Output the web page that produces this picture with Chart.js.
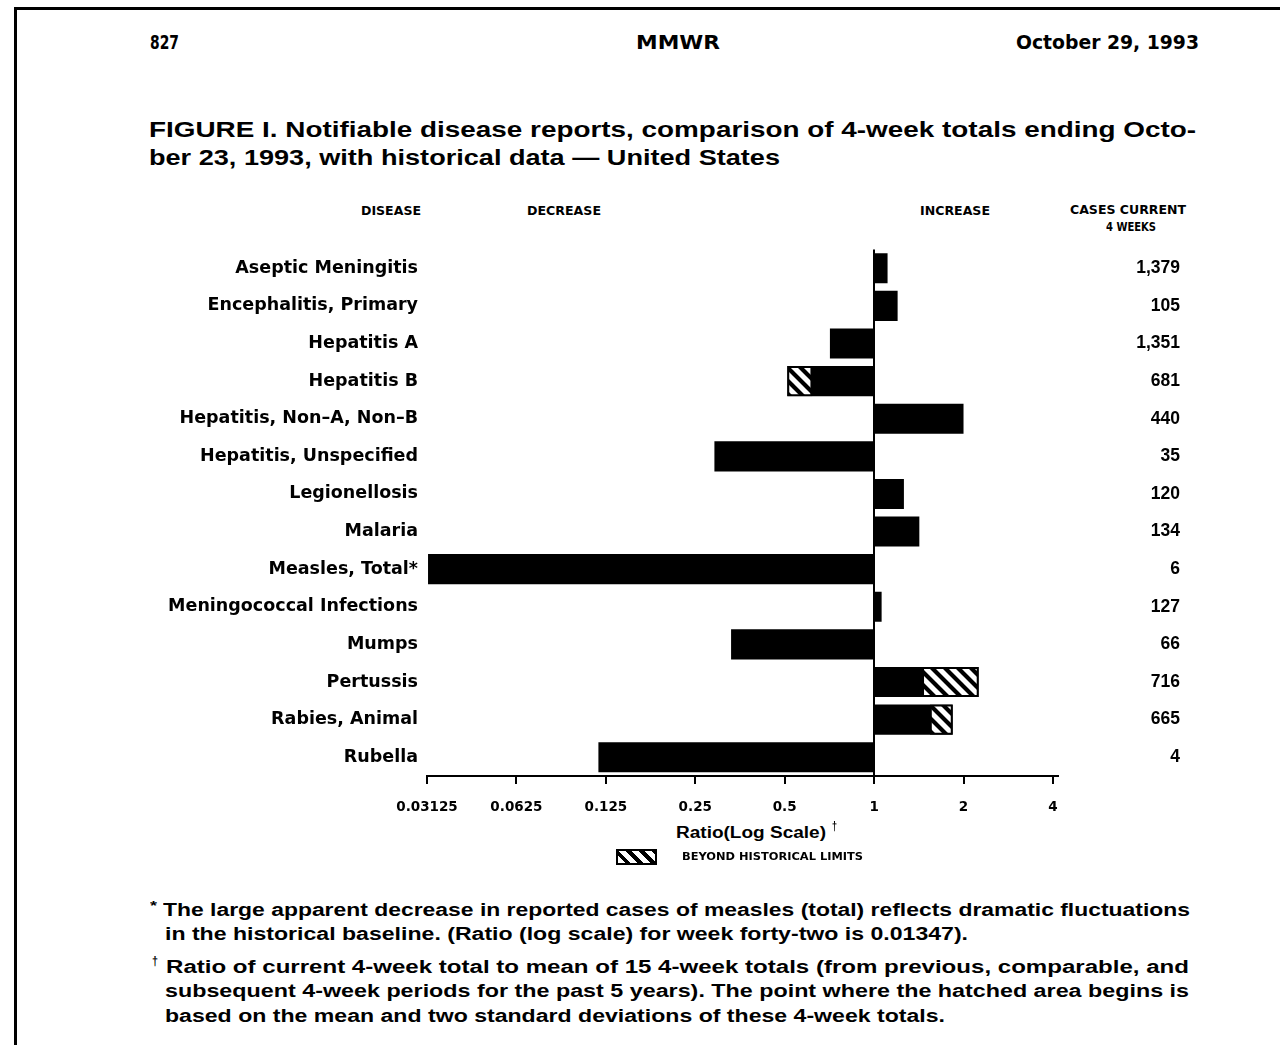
<!DOCTYPE html>
<html>
<head>
<meta charset="utf-8">
<script src="https://cdn.jsdelivr.net/npm/chart.js@4.4.1/dist/chart.umd.min.js"></script>
<style>
  html, body { margin: 0; padding: 0; background: #fff; }
  body { width: 1280px; height: 1045px; position: relative; overflow: hidden; color: #000;
         font-family: "Liberation Sans", Arial, sans-serif; font-weight: bold; }
  .t { position: absolute; white-space: nowrap; line-height: 1; transform-origin: 0 50%; }
  .hdr { font-family: "Liberation Sans Narrow", "DejaVu Sans Condensed", "Liberation Sans", sans-serif; font-size: 19px; }
  .ttl { font-family: "Liberation Sans", sans-serif; font-size: 22px; }
  .col { font-family: "Liberation Sans Narrow", "DejaVu Sans Condensed", "Liberation Sans", sans-serif; font-size: 12px; }
  .fn { font-family: "Liberation Sans", sans-serif; font-size: 18px; }
  #wrap { position: absolute; left: 0; top: 230px; width: 1280px; height: 590px; }
  #swatch { position: absolute; left: 616px; top: 849px; width: 37px; height: 12px; border: 2px solid #000;
            background: repeating-linear-gradient(45deg, #fff 0px, #fff 5px, #000 5px, #000 9px); }
  .bl { position: absolute; background: #000; }
</style>
</head>
<body>
<div class="bl" style="left:14px; top:7px; width:3px; height:1045px;"></div>
<div class="bl" style="left:14px; top:7px; width:1266px; height:3px;"></div>

<div class="t hdr" data-l="150" data-r="179" data-y="42">827</div>
<div class="t hdr" data-l="636" data-r="720" data-y="42">MMWR</div>
<div class="t hdr" data-l="1016" data-r="1199" data-y="42">October 29, 1993</div>

<div class="t ttl" data-l="149" data-r="1196" data-y="130">FIGURE I. Notifiable disease reports, comparison of 4-week totals ending Octo-</div>
<div class="t ttl" data-l="149" data-r="780" data-y="158">ber 23, 1993, with historical data — United States</div>

<div class="t col" data-l="361" data-r="421" data-y="211">DISEASE</div>
<div class="t col" data-l="527" data-r="601" data-y="211">DECREASE</div>
<div class="t col" data-l="920" data-r="990" data-y="211">INCREASE</div>
<div class="t col" data-l="1070" data-r="1186" data-y="210">CASES CURRENT</div>
<div class="t col" data-l="1106" data-r="1156" data-y="227">4 WEEKS</div>

<div id="wrap"><canvas id="c"></canvas></div>

<div class="t" style="font-family:'Liberation Sans',sans-serif;font-size:16px;" data-l="676" data-r="826" data-y="833">Ratio(Log Scale)</div>
<div class="t" style="font-family:'Liberation Sans',sans-serif;font-size:12px;" data-l="832" data-r="837" data-y="826">†</div>
<div id="swatch"></div>
<div class="t col" style="font-size:10px;" data-l="682" data-r="863" data-y="857">BEYOND HISTORICAL LIMITS</div>

<div class="t fn" style="font-size:13px;" data-l="150" data-r="157" data-y="905">*</div>
<div class="t fn" data-l="163" data-r="1190" data-y="910">The large apparent decrease in reported cases of measles (total) reflects dramatic fluctuations</div>
<div class="t fn" data-l="165" data-r="968" data-y="934">in the historical baseline. (Ratio (log scale) for week forty-two is 0.01347).</div>
<div class="t fn" style="font-size:13px;" data-l="152" data-r="158" data-y="960">†</div>
<div class="t fn" data-l="166" data-r="1189" data-y="967">Ratio of current 4-week total to mean of 15 4-week totals (from previous, comparable, and</div>
<div class="t fn" data-l="165" data-r="1189" data-y="991">subsequent 4-week periods for the past 5 years). The point where the hatched area begins is</div>
<div class="t fn" data-l="165" data-r="945" data-y="1016">based on the mean and two standard deviations of these 4-week totals.</div>

<script>
// ---- data ----
const diseases = [
  "Aseptic Meningitis", "Encephalitis, Primary", "Hepatitis A", "Hepatitis B",
  "Hepatitis, Non\u2013A, Non\u2013B", "Hepatitis, Unspecified", "Legionellosis", "Malaria",
  "Measles, Total*", "Meningococcal Infections", "Mumps", "Pertussis", "Rabies, Animal", "Rubella"
];
const ratios = [1.11, 1.20, 0.71, 0.51, 2.00, 0.29, 1.26, 1.42, 0.0315, 1.06, 0.33, 2.25, 1.84, 0.118];
const hatchStart = [null, null, null, 0.62, null, null, null, null, null, null, null, 1.45, 1.54, null];
const cases = ["1,379", "105", "1,351", "681", "440", "35", "120", "134", "6", "127", "66", "716", "665", "4"];
const tickValues = [0.03125, 0.0625, 0.125, 0.25, 0.5, 1, 2, 4];
const tickLabels = ["0.03125", "0.0625", "0.125", "0.25", "0.5", "1", "2", "4"];

// ---- fit HTML text lines to their measured extents ----
document.querySelectorAll('.t').forEach(el => {
  const l = +el.dataset.l, r = +el.dataset.r, y = +el.dataset.y;
  el.style.left = l + 'px';
  const w = el.getBoundingClientRect().width;
  const h = el.getBoundingClientRect().height;
  el.style.top = (y - h / 2) + 'px';
  el.style.transform = 'scaleX(' + ((r - l) / w) + ')';
});

// ---- hatch pattern ----
function makeHatch() {
  const s = 13, c = document.createElement('canvas');
  c.width = s; c.height = s;
  const g = c.getContext('2d');
  g.fillStyle = '#fff'; g.fillRect(0, 0, s, s);
  g.strokeStyle = '#000'; g.lineWidth = 4.2; g.lineCap = 'square';
  g.beginPath();
  g.moveTo(-s, 0); g.lineTo(s, 2 * s);
  g.moveTo(0, 0); g.lineTo(s, s);
  g.moveTo(0, -s); g.lineTo(2 * s, s);
  g.stroke();
  return g.createPattern(c, 'repeat');
}
const hatch = makeHatch();

const labelFont = { family: "'DejaVu Sans', 'Liberation Sans', sans-serif", size: 17.5, weight: 'bold' };
const caseFont = { family: "'Liberation Sans', sans-serif", size: 17.5, weight: 'bold' };

new Chart(document.getElementById('c'), {
  type: 'bar',
  data: {
    labels: diseases,
    datasets: [
      {
        label: 'Beyond historical limits',
        data: hatchStart.map((h, i) => h == null ? null : [h, ratios[i]]),
        backgroundColor: hatch,
        borderColor: '#000',
        borderWidth: 2,
        borderSkipped: false,
        grouped: false,
        barPercentage: 1,
        categoryPercentage: 0.8,
        order: 0
      },
      {
        label: 'Ratio',
        data: ratios.map(v => [1, v]),
        backgroundColor: '#000',
        borderColor: '#000',
        borderWidth: 0,
        borderSkipped: false,
        grouped: false,
        barPercentage: 1,
        categoryPercentage: 0.8,
        order: 1
      }
    ]
  },
  options: {
    indexAxis: 'y',
    responsive: true,
    maintainAspectRatio: false,
    animation: false,
    layout: { padding: { top: 8, right: 100, left: 0, bottom: 0 } },
    plugins: { legend: { display: false }, tooltip: { enabled: false }, title: { display: false } },
    scales: {
      x: {
        type: 'logarithmic',
        min: 0.03125,
        max: 4.16,
        afterBuildTicks: s => { s.ticks = tickValues.map(v => ({ value: v })); },
        afterFit: s => { s.height = 44; },
        ticks: {
          autoSkip: false, maxRotation: 0, padding: 15, color: '#000',
          font: { family: "'DejaVu Sans', sans-serif", size: 13.5, weight: 'bold' },
          callback: (v) => { const i = tickValues.indexOf(v); return i >= 0 ? tickLabels[i] : ''; }
        },
        grid: {
          display: true,
          drawOnChartArea: true,
          color: c => (c.tick && c.tick.value === 1) ? '#000' : 'rgba(0,0,0,0)',
          lineWidth: 2,
          tickColor: '#000',
          tickLength: 8,
          tickWidth: 2
        },
        border: { display: true, color: '#000', width: 2 }
      },
      y: {
        type: 'category',
        position: 'left',
        offset: true,
        afterFit: s => { s.width = 427; },
        grid: { display: false, drawTicks: false },
        border: { display: false },
        ticks: { padding: 9, color: '#000', font: labelFont, autoSkip: false }
      },
      y2: {
        type: 'category',
        position: 'right',
        labels: cases,
        offset: true,
        afterFit: s => { s.width = 122; },
        grid: { display: false, drawTicks: false },
        border: { display: false },
        ticks: { crossAlign: 'far', color: '#000', font: caseFont, autoSkip: false }
      }
    }
  }
});
</script>
</body>
</html>
